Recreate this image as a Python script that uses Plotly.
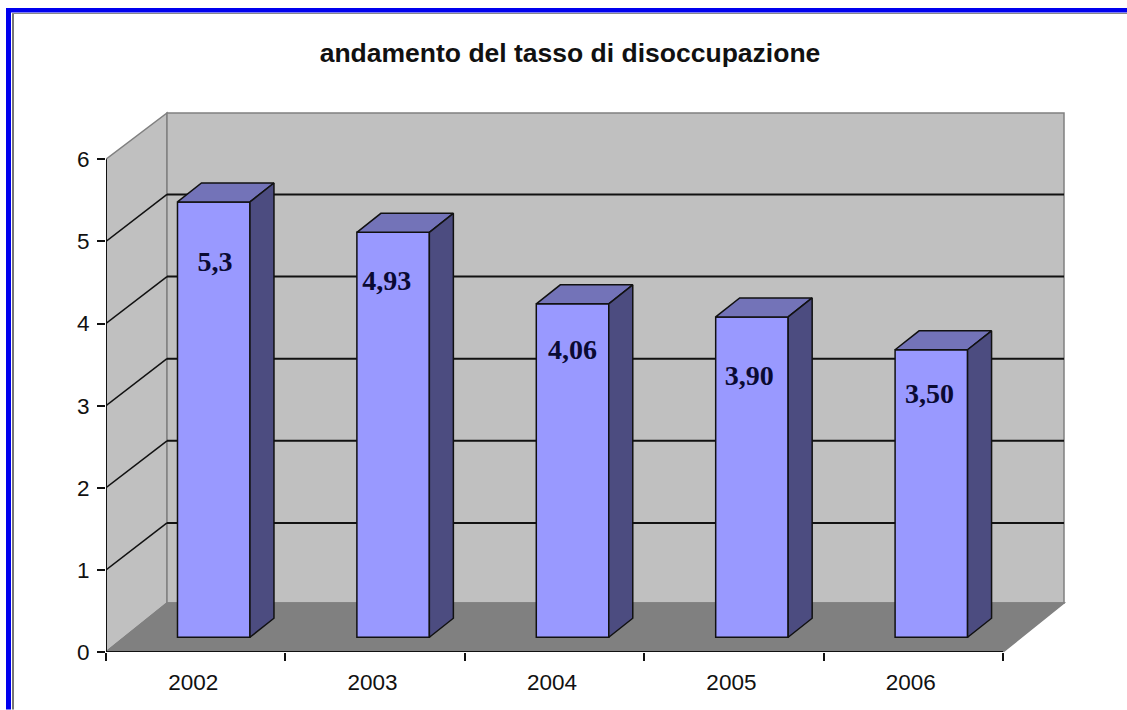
import plotly.graph_objects as go

anni = ['2002', '2003', '2004', '2005', '2006']
tasso = [5.3, 4.93, 4.06, 3.90, 3.50]
etichette = ['5,3', '4,93', '4,06', '3,90', '3,50']
y_ticks = [0, 1, 2, 3, 4, 5, 6]

# where the value labels sit (they are not centred the same way on every bar)
label_x = [0.107, 0.065, 0.10, 0.085, 0.09]
label_y = [4.726, 4.496, 3.656, 3.336, 3.121]

W, H = 1127, 710
L, R, T, B = 106, 57, 106, 57.5
cat_px = 179.4
unit_px = 82.2

# depth of the fake 3d box and of the bars, in axis units
wall_dx, wall_dy = 61 / cat_px, 49 / unit_px
grid_dy = 47 / unit_px
wall_top = 6.563
bar_left = 0.3985 - 0.5
bar_w = 0.404
bar_base = 0.18
bar_dx, bar_dy = 24 / cat_px, 19 / unit_px
tick_shift = -2.5 / cat_px

x_left, x_right = -0.5, 4.5
xmax = -0.5 + (W - L - R) / cat_px
ymax = (H - T - B) / unit_px


def px_x(p):
    return (p - L) / (W - L - R)


def px_y(p):
    return (H - B - p) / (H - T - B)


def poly(xs, ys, color, line='#808080', lw=1.5):
    path = 'M ' + ' L '.join(f'{a},{b}' for a, b in zip(xs, ys)) + ' Z'
    return dict(type='path', path=path, xref='x', yref='y', layer='below',
                fillcolor=color, line=dict(color=line, width=lw))


shapes = []
# side wall, back wall, floor
shapes.append(poly([x_left, x_left + wall_dx, x_left + wall_dx, x_left],
                   [0, wall_dy, wall_top, 6], '#c0c0c0'))
shapes.append(poly([x_left + wall_dx, x_right + wall_dx, x_right + wall_dx, x_left + wall_dx],
                   [wall_dy, wall_dy, wall_top, wall_top], '#c0c0c0'))
shapes.append(poly([x_left, x_right, x_right + wall_dx, x_left + wall_dx],
                   [0, 0, wall_dy, wall_dy], '#808080'))

# gridlines, bent round the corner
for t in y_ticks[1:-1]:
    shapes.append(dict(type='line', xref='x', yref='y', layer='below',
                       x0=x_left, y0=t, x1=x_left + wall_dx, y1=t + grid_dy,
                       line=dict(color='#111111', width=1.5)))
    shapes.append(dict(type='line', xref='x', yref='y', layer='below',
                       x0=x_left + wall_dx, y0=t + grid_dy, x1=x_right + wall_dx, y1=t + grid_dy,
                       line=dict(color='#111111', width=2)))

# blue frame of the screenshot
shapes.append(dict(type='rect', xref='paper', yref='paper', layer='above',
                   x0=px_x(6), x1=px_x(11), y0=px_y(710), y1=px_y(8),
                   fillcolor='#0000ee', line=dict(width=0)))
shapes.append(dict(type='rect', xref='paper', yref='paper', layer='above',
                   x0=px_x(6), x1=px_x(1127), y0=px_y(12.5), y1=px_y(8),
                   fillcolor='#0000ee', line=dict(width=0)))
shapes.append(dict(type='rect', xref='paper', yref='paper', layer='above',
                   x0=px_x(12), x1=px_x(14), y0=px_y(710), y1=px_y(13),
                   fillcolor='#777777', line=dict(width=0)))
shapes.append(dict(type='rect', xref='paper', yref='paper', layer='above',
                   x0=px_x(12), x1=px_x(1127), y0=px_y(14), y1=px_y(13),
                   fillcolor='#888888', line=dict(width=0)))

fig = go.Figure()

xpos = [i + bar_left + bar_w / 2 for i in range(len(anni))]
fig.add_trace(go.Bar(x=xpos, y=tasso, base=bar_base, width=bar_w,
                     marker=dict(color='#9999ff', line=dict(color='#111111', width=1.5)),
                     hoverinfo='skip', showlegend=False))

for i, v in enumerate(tasso):
    x0 = i + bar_left
    x1 = x0 + bar_w
    top = bar_base + v
    # top face
    fig.add_trace(go.Scatter(x=[x0, x0 + bar_dx, x1 + bar_dx, x1, x0],
                             y=[top, top + bar_dy, top + bar_dy, top, top],
                             mode='lines', fill='toself', fillcolor='#7373b8',
                             line=dict(color='#111111', width=1.5),
                             hoverinfo='skip', showlegend=False))
    # side face
    fig.add_trace(go.Scatter(x=[x1, x1 + bar_dx, x1 + bar_dx, x1, x1],
                             y=[top, top + bar_dy, bar_base + bar_dy, bar_base, top],
                             mode='lines', fill='toself', fillcolor='#4c4c80',
                             line=dict(color='#111111', width=1.5),
                             hoverinfo='skip', showlegend=False))

fig.add_trace(go.Scatter(x=[i + d for i, d in enumerate(label_x)], y=label_y, text=etichette,
                         mode='text', textposition='middle center',
                         textfont=dict(family='Liberation Serif', size=28, color='#0a0a33',
                                       weight='bold'),
                         hoverinfo='skip', showlegend=False))

# axis lines stop at the front of the box, so not the axes' own lines
fig.add_trace(go.Scatter(x=[x_left, x_left, x_right], y=[6, 0, 0], mode='lines',
                         line=dict(color='#111111', width=2), cliponaxis=False,
                         hoverinfo='skip', showlegend=False))

fig.update_layout(
    width=W, height=H,
    margin=dict(l=L, r=R, t=T, b=B, autoexpand=False),
    paper_bgcolor='white', plot_bgcolor='white',
    font=dict(family='Liberation Sans', color='#111111'),
    shapes=shapes,
    title=dict(text='andamento del tasso di disoccupazione', x=570 / W, y=1 - 53 / H,
               xanchor='center', yanchor='middle', xref='container', yref='container',
               font=dict(family='Liberation Sans', size=26.5, color='#111111', weight='bold')),
)
fig.update_xaxes(range=[x_left, xmax], tickmode='array',
                 tickvals=[i + tick_shift for i in range(len(anni))],
                 ticktext=anni, ticks='', showgrid=False, zeroline=False, showline=False,
                 tickfont=dict(size=22.5, color='#111111'), ticklabelstandoff=14,
                 minor=dict(ticks='outside', tickmode='array',
                            tickvals=[i - 0.5 for i in range(len(anni) + 1)],
                            ticklen=8, tickwidth=2, tickcolor='#111111', showgrid=False))
fig.update_yaxes(range=[0, ymax], tickmode='array', tickvals=y_ticks, ticks='outside',
                 ticklen=8, tickwidth=2, tickcolor='#111111', showgrid=False,
                 zeroline=False, showline=False,
                 tickfont=dict(size=22.5, color='#111111'), ticklabelstandoff=3)

# the page's default 8px body margin would push the whole chart off
fig.write_html('out.html', config=dict(displayModeBar=False),
               post_script="document.body.style.margin='0';")
